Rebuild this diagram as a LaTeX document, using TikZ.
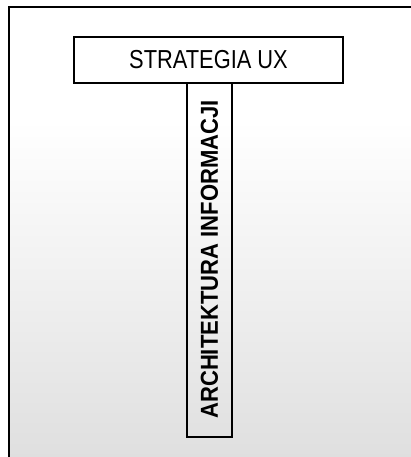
\documentclass[tikz,border=0pt]{standalone}
\usepackage{fontspec}
\setmainfont{Liberation Sans}
\newfontfamily\stratfont[FakeStretch=0.84]{Liberation Sans}
\newfontfamily\archfont[FakeStretch=0.9]{Liberation Sans}
\usetikzlibrary{positioning}

\begin{document}
\begin{tikzpicture}[x=1pt,y=-1pt]
\useasboundingbox (0,0) rectangle (411,457);
\fill[white] (0,0) rectangle (411,457);
\shade[top color=white, bottom color=gray!25, middle color=gray!12] (9,120) rectangle (411,457);
\fill[white] (9,7) rectangle (411,120);
\draw[line width=2.2pt] (9,460) |- (414,7);

\begin{scope}[every node/.style={rectangle,draw=black,line width=1.8pt,inner sep=0pt}]
    \node (arch) at (209.5, 259.5) [minimum width=355pt,minimum height=45pt,rotate=90]
        {\archfont\bfseries\fontsize{24.5}{26}\selectfont ARCHITEKTURA INFORMACJI};
    \node (strat) at (208.5, 60) [minimum width=269pt,minimum height=46pt,fill=white]
        {\stratfont\fontsize{26}{28}\selectfont STRATEGIA UX};
\end{scope}
\end{tikzpicture}
\end{document}
